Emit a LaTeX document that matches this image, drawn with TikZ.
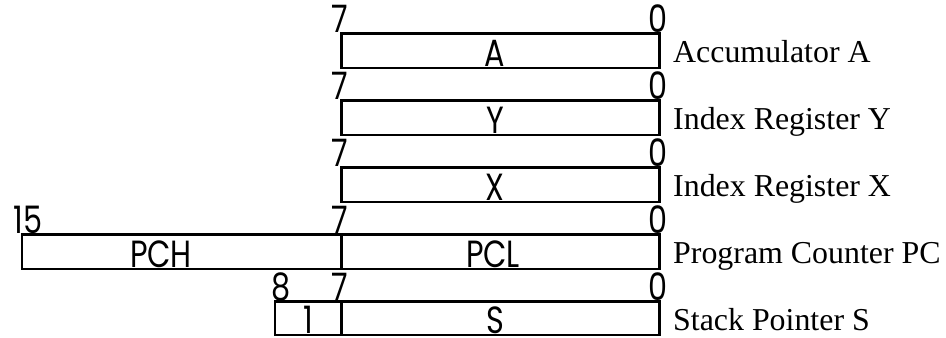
\documentclass[tikz,border=0pt]{standalone}
\usepackage{fontspec}
\setmainfont{Liberation Serif}
\newfontfamily\regfont[FakeStretch=0.8]{Poppins}
\begin{document}
\begin{tikzpicture}[x=1bp,y=-1bp,
  regbox/.style={draw, line width=2.2bp},
  bitnum/.style={font=\regfont\fontsize{38}{38}\selectfont, inner sep=0pt, text depth=0pt, anchor=base},
  fieldtxt/.style={font=\regfont\fontsize{38}{38}\selectfont, inner sep=0pt, text depth=0pt, anchor=base},
  regname/.style={font=\fontsize{32}{32}\selectfont, inner sep=0pt, anchor=base west}]
\useasboundingbox (0,0) rectangle (946,337);

% Accumulator A
\draw[regbox] (341.5,33.5) rectangle (659.5,68);
\node[fieldtxt] (tA) at (495,66.5) {A};
\node[bitnum] (a7) at (340,32.5) {7};
\node[bitnum] (a0) at (658,32.5) {0};
\node[regname] (nA) at (673,62.5) {Accumulator A};

% Index Register Y
\draw[regbox] (341.5,100.5) rectangle (659.5,135);
\node[fieldtxt] (tY) at (495,133.5) {Y};
\node[bitnum] (y7) at (340,99.5) {7};
\node[bitnum] (y0) at (658,99.5) {0};
\node[regname] (nY) at (673,129.5) {Index Register Y};

% Index Register X
\draw[regbox] (341.5,167.5) rectangle (659.5,202);
\node[fieldtxt] (tX) at (495,200.5) {X};
\node[bitnum] (x7) at (340,166.5) {7};
\node[bitnum] (x0) at (658,166.5) {0};
\node[regname] (nX) at (673,196.5) {Index Register X};

% Program Counter
\draw[regbox] (22,234.5) rectangle (659.5,269);
\draw[regbox] (341.5,234.5) -- (341.5,269);
\node[fieldtxt] (tPCH) at (161,267.5) {PCH};
\node[fieldtxt] (tPCL) at (493,267.5) {PCL};
\node[bitnum] (p15) at (28,233.5) {15};
\node[bitnum] (p7) at (340,233.5) {7};
\node[bitnum] (p0) at (658,233.5) {0};
\node[regname] (nPC) at (673,263.5) {Program Counter PC};

% Stack Pointer
\draw[regbox] (275,301.5) rectangle (659.5,335);
\draw[regbox] (341.5,301.5) -- (341.5,335);
\node[fieldtxt] (t1) at (308,333) {1};
\node[fieldtxt] (tS) at (495,333) {S};
\node[bitnum] (s8) at (281.5,300.5) {8};
\node[bitnum] (s7) at (340,300.5) {7};
\node[bitnum] (s0) at (658,300.5) {0};
\node[regname] (nS) at (673,330) {Stack Pointer S};
\end{tikzpicture}
\end{document}
